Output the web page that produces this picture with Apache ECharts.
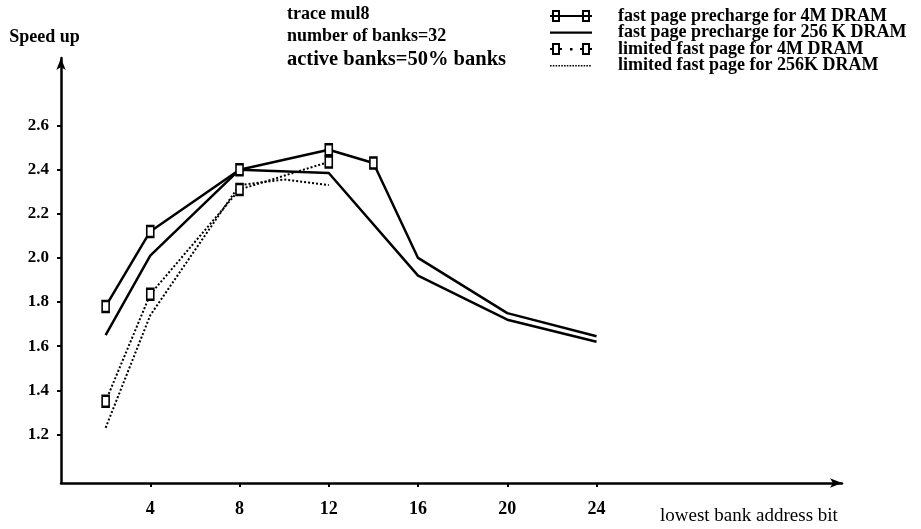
<!DOCTYPE html>
<html>
<head>
<meta charset="utf-8">
<script src="https://cdn.jsdelivr.net/npm/echarts@6/dist/echarts.min.js"></script>
<style>
  html, body { margin: 0; padding: 0; background: #fff; }
  #chart { width: 921px; height: 529px; }
</style>
</head>
<body>
<div id="chart"></div>
<script>
// Lowest bank address bit (x) and measured speed-up for each configuration
const addressBits   = [2, 4, 8, 10, 12, 14, 16, 20, 24];
const fast4M        = [1.78, 2.12, 2.40, null, 2.49, 2.43, 2.00, 1.75, 1.645];
const fast256K      = [1.65, 2.01, 2.40, null, 2.385, null, 1.92, 1.72, 1.62];
const limited4M     = [1.35, 1.835, 2.31, null, 2.435, null, null, null, null];
const limited256K   = [1.23, 1.74, 2.33, 2.355, 2.33, null, null, null, null];

// Points that carry a square marker on the 4M curves
const markedBits4M = [2, 4, 8, 12, 14];

const yTickValues = [1.2, 1.4, 1.6, 1.8, 2.0, 2.2, 2.4, 2.6];
const xTickValues = [4, 8, 12, 16, 20, 24];

const seriesNames = [
  'fast page precharge for 4M DRAM',
  'fast page precharge for 256 K DRAM',
  'limited fast page for 4M DRAM',
  'limited fast page for 256K DRAM'
];
const titleLines = ['trace mul8', 'number of banks=32', 'active banks=50% banks'];

const SERIF = 'Liberation Serif';

function pairs(values, marked) {
  const out = [];
  values.forEach((v, i) => {
    if (v === null) return;
    const x = addressBits[i];
    if (marked && marked.indexOf(x) < 0) {
      out.push({ value: [x, v], symbol: 'none' });
    } else {
      out.push([x, v]);
    }
  });
  return out;
}

// Legend icons drawn in a 63x12 box; the left 42px hold the sample,
// the tiny corner squares only fix the bounding box.
const box = 'M0 0h0.01v0.01h-0.01z M62.99 11.99h0.01v0.01h-0.01z ';
function hollowSquare(x) {
  // outer clockwise, inner counter-clockwise -> hollow
  return 'M' + x + ' 0h8v12h-8z M' + (x + 2) + ' 2v8h4v-8z ';
}
function dashes(x0, x1, y, h, dash, gap) {
  let p = '';
  for (let x = x0; x < x1; x += dash + gap) {
    const w = Math.min(dash, x1 - x);
    p += 'M' + x + ' ' + y + 'h' + w + 'v' + h + 'h-' + w + 'z ';
  }
  return p;
}
const iconFast4M = 'path://' + box + hollowSquare(2) + hollowSquare(32) + 'M0 5h42v2h-42z';
const iconFast256K = 'path://' + box + 'M0 5h42v2.2h-42z';
const iconLimited4M = 'path://' + box + hollowSquare(2) + hollowSquare(32) +
  'M0 5h2v2h-2z M10 5h2v2h-2z M20 5h2.5v2.5h-2.5z M30 5h2v2h-2z M40 5h2v2h-2z';
const iconLimited256K = 'path://' + box + dashes(0, 42, 5.5, 1.6, 1.6, 1.2);

const legendText = { fontFamily: SERIF, fontWeight: 'bold', fontSize: 18, color: '#000', lineHeight: 17 };
const legendItemStyle = { color: '#000', borderWidth: 0 };

const chart = echarts.init(document.getElementById('chart'), null, { renderer: 'canvas' });

chart.setOption({
  backgroundColor: '#fff',
  animation: false,
  title: titleLines.map((t, i) => ({
    text: t,
    left: 287,
    top: [5, 27, 49][i],
    padding: 0,
    textStyle: { fontFamily: SERIF, fontWeight: 'bold', fontSize: [18, 18, 20.5][i], color: '#000' }
  })),
  legend: {
    orient: 'vertical',
    left: 550,
    top: 7,
    padding: 0,
    itemGap: -1.5,
    itemWidth: 63,
    itemHeight: 12,
    selectedMode: false,
    textStyle: legendText,
    data: [
      { name: seriesNames[0], icon: iconFast4M, itemStyle: legendItemStyle },
      { name: seriesNames[1], icon: iconFast256K, itemStyle: legendItemStyle },
      { name: seriesNames[2], icon: iconLimited4M, itemStyle: legendItemStyle },
      { name: seriesNames[3], icon: iconLimited256K, itemStyle: legendItemStyle }
    ]
  },
  grid: { left: 61, right: 79, top: 58, bottom: 46 },
  xAxis: {
    type: 'value',
    min: 0,
    max: 35,
    name: 'lowest bank address bit',
    nameLocation: 'end',
    nameGap: -182,
    nameTextStyle: { fontFamily: SERIF, fontSize: 19, color: '#000', verticalAlign: 'top', padding: [24, 0, 0, 0] },
    axisLine: { show: true, symbol: ['none', 'arrow'], symbolSize: [7, 12], lineStyle: { color: '#000', width: 2.5 } },
    axisTick: { show: true, customValues: xTickValues, length: 4, lineStyle: { color: '#000', width: 2 } },
    axisLabel: {
      customValues: xTickValues,
      margin: 17,
      fontFamily: SERIF, fontWeight: 'bold', fontSize: 18, color: '#000'
    },
    splitLine: { show: false }
  },
  yAxis: {
    type: 'value',
    min: 0.98,
    max: 2.906,
    name: 'Speed up',
    nameLocation: 'end',
    nameGap: 12,
    nameTextStyle: { fontFamily: SERIF, fontWeight: 'bold', fontSize: 18, color: '#000', align: 'center', padding: [0, 33, 0, 0] },
    axisLine: { show: true, symbol: ['none', 'arrow'], symbolSize: [7, 12], lineStyle: { color: '#000', width: 2.5 } },
    axisTick: { show: true, customValues: yTickValues, length: 4, lineStyle: { color: '#000', width: 2 } },
    axisLabel: {
      customValues: yTickValues,
      margin: 12,
      formatter: v => v.toFixed(1),
      fontFamily: SERIF, fontWeight: 'bold', fontSize: 17, color: '#000'
    },
    splitLine: { show: false }
  },
  series: [
    {
      name: seriesNames[1],
      type: 'line',
      data: pairs(fast256K),
      connectNulls: true,
      symbol: 'none',
      color: '#000',
      lineStyle: { color: '#000', width: 2.5 },
      z: 2
    },
    {
      name: seriesNames[3],
      type: 'line',
      data: pairs(limited256K),
      connectNulls: true,
      symbol: 'none',
      color: '#000',
      lineStyle: { color: '#000', width: 2, type: [2, 2] },
      z: 2
    },
    {
      name: seriesNames[2],
      type: 'line',
      data: pairs(limited4M, markedBits4M),
      connectNulls: true,
      symbol: 'rect',
      symbolSize: [7, 11],
      color: '#000',
      lineStyle: { color: '#000', width: 2, type: [2, 2] },
      itemStyle: { color: '#fff', borderColor: '#000', borderWidth: 2 },
      z: 3
    },
    {
      name: seriesNames[0],
      type: 'line',
      data: pairs(fast4M, markedBits4M),
      connectNulls: true,
      symbol: 'rect',
      symbolSize: [7, 11],
      color: '#000',
      lineStyle: { color: '#000', width: 2.5 },
      itemStyle: { color: '#fff', borderColor: '#000', borderWidth: 2 },
      z: 4
    }
  ]
});
</script>
</body>
</html>
